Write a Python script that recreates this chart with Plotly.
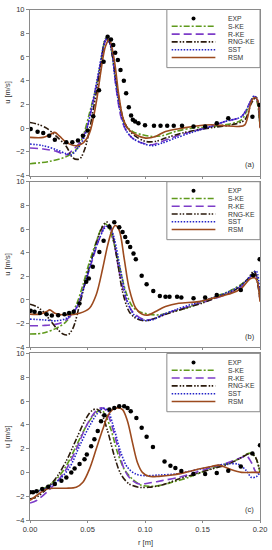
import plotly.graph_objects as go

# ---------------- data ----------------
SERIES = ["EXP", "S-KE", "R-KE", "RNG-KE", "SST", "RSM"]
PANEL_LABELS = ["(a)", "(b)", "(c)"]
X_TICKS = [0.00, 0.05, 0.10, 0.15, 0.20]
X_TICK_TEXT = ["0.00", "0.05", "0.10", "0.15", "0.20"]
Y_TICKS = [-4, -2, 0, 2, 4, 6, 8, 10]

# panel (a)
EXP_A_X = [0.0006,0.0066,0.0115,0.0167,0.0216,0.0316,0.0368,0.0417,0.046,0.050,0.055,0.060,0.064,0.0675,0.0704,0.0724,0.0741,0.0764,0.0787,0.0816,0.0836,0.0859,0.0879,0.0894,0.0914,0.0943,0.100,0.1078,0.1135,0.1193,0.125,0.1322,0.1422,0.1523,0.1624,0.1724,0.1934,0.1997]
EXP_A_Y = [-0.08,-0.31,-0.42,-0.64,-0.98,-1.20,-1.20,-1.04,-0.64,-0.2,1.0,3.2,5.6,7.7,7.48,7.0,6.36,5.74,4.9,4.0,2.94,1.76,1.06,0.70,0.56,0.42,0.25,0.2,0.2,0.2,0.2,0.2,0.14,0.14,0.42,0.84,0.95,1.96]
SKE_A_X = [0,0.0172,0.0316,0.0402,0.046,0.0517,0.0575,0.0618,0.0661,0.069,0.0733,0.0776,0.0819,0.0891,0.0977,0.1063,0.1149,0.1264,0.1408,0.1523,0.1695,0.1839,0.1925,0.1954,0.1977,0.2]
SKE_A_Y = [-3.0,-2.8,-2.4,-1.8,-0.7,1.26,3.5,5.7,7.6,7.3,4.9,2.1,0.42,-0.28,-0.56,-0.7,-0.64,-0.28,0,0.08,0.28,0.7,2.4,2.6,2.1,0.14]
RKE_A_X = [0,0.0115,0.023,0.0316,0.0374,0.0431,0.0489,0.0546,0.0603,0.0647,0.0667,0.0704,0.0747,0.079,0.0833,0.0891,0.0977,0.1063,0.1149,0.1264,0.1408,0.1552,0.1695,0.1839,0.1925,0.1954,0.1983,0.2]
RKE_A_Y = [-1.68,-1.76,-1.96,-2.24,-1.82,-1.26,-0.14,2.1,4.9,7.1,7.6,6.9,3.5,0.98,-0.14,-0.84,-1.26,-1.4,-1.12,-0.7,-0.28,0.08,0.56,0.98,2.38,2.66,2.1,0.14]
RNG_A_X = [0,0.0057,0.0144,0.023,0.0316,0.0374,0.0431,0.0474,0.0517,0.0575,0.0618,0.0655,0.0684,0.0718,0.0761,0.0805,0.0848,0.092,0.1006,0.1092,0.1178,0.1322,0.1466,0.1609,0.1753,0.1868,0.1925,0.1968,0.2]
RNG_A_Y = [0.48,0.36,0,-0.7,-1.54,-2.52,-2.6,-1.82,-0.14,2.94,5.46,7.42,7.37,6.0,3.22,0.98,0,-0.7,-1.12,-1.12,-0.84,-0.42,-0.14,0.08,0.28,0.7,2.1,2.6,0.14]
SST_A_X = [0,0.0115,0.023,0.0316,0.0359,0.0417,0.0474,0.0532,0.0589,0.0638,0.0661,0.0695,0.0741,0.0782,0.0833,0.0891,0.0977,0.1063,0.1149,0.1264,0.1408,0.1552,0.1695,0.1839,0.1911,0.1948,0.1977,0.2]
SST_A_Y = [-1.34,-1.48,-1.82,-2.16,-2.24,-1.68,-0.7,1.54,4.34,6.86,7.48,7.14,4.06,1.54,-0.14,-0.84,-1.26,-1.48,-1.26,-0.84,-0.36,0.08,0.56,0.98,2.1,2.72,2.4,0.14]
RSM_A_X = [0,0.0115,0.0172,0.0216,0.0259,0.0316,0.0402,0.046,0.0517,0.0575,0.0618,0.0655,0.069,0.0733,0.077,0.0805,0.0848,0.092,0.1006,0.1092,0.1178,0.1322,0.1466,0.158,0.1695,0.181,0.1868,0.1925,0.1954,0.1977,0.2]
RSM_A_Y = [-0.78,-0.78,-0.56,-0.36,-0.7,-1.2,-1.48,-1.26,-0.42,2.1,4.9,6.86,7.48,5.74,2.94,0.98,0,-0.56,-0.84,-0.7,-0.28,0,0.2,0.28,0.2,0.14,0.28,2.24,2.58,2.4,0]

# panel (b)
EXP_B_X = [0.0006,0.004,0.0086,0.0144,0.019,0.0245,0.030,0.034,0.038,0.043,0.0489,0.0511,0.0546,0.0603,0.064,0.069,0.0733,0.0776,0.0805,0.0828,0.0848,0.0871,0.09,0.092,0.0971,0.1014,0.1072,0.1129,0.1178,0.1213,0.1279,0.1316,0.1422,0.1523,0.1624,0.1833,0.194,0.1997]
EXP_B_Y = [-0.92,-1.0,-1.1,-1.2,-1.32,-1.3,-1.2,-1.1,-1.0,-0.3,1.54,1.82,2.8,4.06,5.0,6.2,6.58,6.16,5.74,5.32,4.9,4.48,3.92,3.44,2.04,1.34,0.76,0.34,0.28,0.28,0.28,0.2,0.14,0.2,0.42,0.84,2.1,3.44]
SKE_B_X = [0,0.0115,0.023,0.0316,0.0402,0.046,0.0517,0.0575,0.0618,0.0647,0.0675,0.0718,0.0776,0.0833,0.0891,0.0948,0.1034,0.1121,0.1236,0.1351,0.1466,0.1609,0.1753,0.1868,0.1925,0.1954,0.1977,0.2]
SKE_B_Y = [-2.88,-2.8,-2.38,-1.82,-0.42,1.26,3.22,4.9,6.02,6.44,6.3,5.18,2.94,0.7,-0.56,-0.98,-1.2,-1.26,-0.98,-0.7,-0.28,0.28,0.84,1.54,2.04,2.38,1.82,0]
RKE_B_X = [0,0.0115,0.023,0.0316,0.0402,0.0474,0.0546,0.0603,0.0655,0.0684,0.0718,0.0776,0.0833,0.0891,0.0963,0.1034,0.1121,0.1236,0.1379,0.1523,0.1695,0.1839,0.1925,0.1954,0.1983,0.2]
RKE_B_Y = [-2.18,-2.16,-2.04,-1.68,-0.7,1.26,3.5,5.18,6.3,6.36,5.46,2.38,0.14,-0.98,-1.54,-1.68,-1.4,-0.98,-0.56,-0.14,0.42,1.12,2.04,2.38,1.26,0]
RNG_B_X = [0,0.0057,0.0115,0.0172,0.023,0.0287,0.033,0.0374,0.0431,0.0489,0.0546,0.0603,0.0647,0.0675,0.0713,0.0761,0.0805,0.0862,0.092,0.1006,0.1092,0.1207,0.1351,0.1494,0.1638,0.1782,0.1897,0.1948,0.1977,0.2]
RNG_B_Y = [-0.36,-0.56,-0.98,-1.68,-2.38,-2.88,-2.94,-2.38,-0.42,1.82,3.78,5.6,6.44,6.58,5.74,3.22,0.7,-0.98,-1.54,-1.76,-1.54,-1.12,-0.7,-0.28,0.28,0.84,1.82,2.46,1.54,0]
SST_B_X = [0,0.0115,0.023,0.0316,0.0402,0.0474,0.0546,0.0603,0.0655,0.069,0.0733,0.079,0.0848,0.0905,0.0977,0.1063,0.1149,0.1264,0.1408,0.1552,0.1695,0.1839,0.1925,0.1968,0.2]
SST_B_Y = [-1.62,-1.68,-1.76,-1.54,-0.7,1.26,3.64,5.18,6.16,6.3,5.18,2.38,-0.14,-1.26,-1.68,-1.68,-1.26,-0.84,-0.36,0.08,0.56,1.26,2.1,2.44,0]
RSM_B_X = [0,0.0086,0.0144,0.0172,0.0216,0.0316,0.0431,0.0517,0.0575,0.0632,0.0675,0.0713,0.0741,0.0776,0.0819,0.0862,0.092,0.0977,0.1034,0.1092,0.1178,0.1293,0.1466,0.1609,0.1753,0.1839,0.1911,0.1954,0.1977,0.2]
RSM_B_Y = [-1.2,-1.2,-0.98,-0.84,-1.12,-1.26,-1.12,-0.7,0.42,2.66,4.62,5.88,6.3,5.88,3.5,0.98,-0.7,-1.2,-1.26,-0.98,-0.56,-0.28,-0.14,0.2,0.56,0.98,1.76,1.88,1.54,-0.14]

# panel (c)
EXP_C_X = [0,0.0026,0.0057,0.0106,0.0158,0.0216,0.0273,0.0316,0.0359,0.0388,0.0431,0.0474,0.0494,0.0532,0.056,0.0589,0.0618,0.0647,0.069,0.0733,0.0776,0.0819,0.0848,0.0876,0.0925,0.0971,0.1014,0.1069,0.117,0.1221,0.1264,0.1316,0.1422,0.1523,0.1624,0.1724,0.1833,0.1934,0.2]
EXP_C_Y = [-1.67,-1.67,-1.58,-1.4,-1.2,-0.97,-0.7,-0.42,0,0.33,0.7,1.1,1.5,2.2,2.78,3.47,4.3,4.8,5.28,5.42,5.56,5.56,5.42,5.14,4.58,3.75,3.0,2.14,0.92,0.56,0.36,0.11,-0.14,-0.14,-0.06,0.14,0.5,1.58,2.28]
SKE_C_X = [0,0.0115,0.023,0.0316,0.0402,0.0489,0.0546,0.0589,0.0618,0.0647,0.0704,0.0761,0.0819,0.0891,0.0963,0.1034,0.1121,0.1236,0.1379,0.1523,0.1695,0.181,0.1882,0.1925,0.1968,0.2]
SKE_C_Y = [-1.75,-1.39,-0.56,0.56,2.22,3.89,4.72,5.14,5.22,5.0,3.6,1.67,0.28,-0.56,-1.06,-1.17,-1.11,-0.83,-0.42,0.14,0.69,1.11,1.53,1.61,1.11,0]
RKE_C_X = [0,0.0057,0.0144,0.023,0.0316,0.0402,0.0489,0.056,0.0618,0.0655,0.0704,0.0761,0.0819,0.0876,0.0948,0.1034,0.1149,0.1293,0.1437,0.158,0.1724,0.1839,0.1882,0.1925,0.1968,0.2]
RKE_C_Y = [-2.58,-2.36,-1.67,-0.83,0.28,1.94,3.89,5.0,5.42,5.28,4.17,2.22,0.28,-0.56,-0.97,-0.89,-0.69,-0.42,0,0.42,0.83,1.25,1.39,0.83,0,0]
RNG_C_X = [0,0.0057,0.0144,0.023,0.0316,0.0402,0.0474,0.0532,0.0575,0.0618,0.0675,0.0733,0.079,0.0862,0.0948,0.1034,0.1149,0.1293,0.1437,0.158,0.1724,0.1839,0.1911,0.1954,0.2]
RNG_C_Y = [-2.22,-2.08,-1.39,-0.42,0.97,2.78,4.3,5.14,5.33,5.0,3.47,1.39,-0.14,-0.97,-1.25,-1.25,-1.06,-0.56,-0.14,0.28,0.69,1.25,1.58,1.39,0]
SST_C_X = [0,0.0086,0.0172,0.0259,0.0345,0.0431,0.0517,0.0589,0.0638,0.0675,0.0733,0.079,0.0848,0.092,0.1006,0.1121,0.1264,0.1408,0.1552,0.1695,0.181,0.1882,0.1925,0.1968,0.2]
SST_C_Y = [-1.61,-1.53,-1.17,-0.56,0.42,2.22,3.89,5.0,5.39,5.22,3.6,1.67,0.42,-0.14,-0.28,-0.22,-0.14,0.14,0.42,0.69,0.69,0.14,-0.42,-0.36,0]
RSM_C_X = [0,0.0057,0.0144,0.023,0.0316,0.0402,0.046,0.0517,0.0575,0.0632,0.0675,0.0718,0.0761,0.0805,0.0848,0.0891,0.0934,0.0977,0.1034,0.1121,0.1236,0.1351,0.1466,0.158,0.1638,0.1681,0.1753,0.1839,0.1925,0.2]
RSM_C_Y = [-2.36,-1.94,-1.39,-1.33,-1.33,-1.25,-0.83,0.28,1.94,3.6,4.72,5.28,5.42,5.28,4.3,2.5,0.83,0,-0.33,-0.33,-0.22,0,0.28,0.5,0.61,0.5,0.22,0,0,0]

PANELS = [
    {"EXP": (EXP_A_X, EXP_A_Y), "S-KE": (SKE_A_X, SKE_A_Y), "R-KE": (RKE_A_X, RKE_A_Y),
     "RNG-KE": (RNG_A_X, RNG_A_Y), "SST": (SST_A_X, SST_A_Y), "RSM": (RSM_A_X, RSM_A_Y)},
    {"EXP": (EXP_B_X, EXP_B_Y), "S-KE": (SKE_B_X, SKE_B_Y), "R-KE": (RKE_B_X, RKE_B_Y),
     "RNG-KE": (RNG_B_X, RNG_B_Y), "SST": (SST_B_X, SST_B_Y), "RSM": (RSM_B_X, RSM_B_Y)},
    {"EXP": (EXP_C_X, EXP_C_Y), "S-KE": (SKE_C_X, SKE_C_Y), "R-KE": (RKE_C_X, RKE_C_Y),
     "RNG-KE": (RNG_C_X, RNG_C_Y), "SST": (SST_C_X, SST_C_Y), "RSM": (RSM_C_X, RSM_C_Y)},
]

# ---------------- styles ----------------
COLORS = {"EXP": "#000000", "S-KE": "#5f9a1c", "R-KE": "#7d3cc8", "RNG-KE": "#2b1a0c",
          "SST": "#2222c8", "RSM": "#9c4a1e"}
DASHES = {"S-KE": "6px,2px,2px,2px", "R-KE": "8px,4px",
          "RNG-KE": "6px,2px,1.5px,1.5px,1.5px,2px", "SST": "1.5px,1.5px", "RSM": "solid"}
FONT = "Liberation Sans, Arial, sans-serif"
AXIS_COLOR = "#8a8a8a"
TEXT_COLOR = "#333333"

# y-domains of three stacked panels
DOMAINS = [[0.674, 0.999], [0.338, 0.662], [0.0, 0.326]]

fig = go.Figure()
for i, panel in enumerate(PANELS):
    xa = "x" if i == 0 else f"x{i+1}"
    ya = "y" if i == 0 else f"y{i+1}"
    for name in SERIES[1:]:
        xs, ys = panel[name]
        fig.add_trace(go.Scatter(x=xs, y=ys, mode="lines", xaxis=xa, yaxis=ya,
                                 line=dict(color=COLORS[name], width=1.6, dash=DASHES[name],
                                           shape="spline", smoothing=0.9),
                                 showlegend=False, name=name))
    xs, ys = panel["EXP"]
    fig.add_trace(go.Scatter(x=xs, y=ys, mode="markers", xaxis=xa, yaxis=ya,
                             marker=dict(color="black", size=4.5), showlegend=False, name="EXP"))

layout = dict(width=272, height=550, margin=dict(l=30, r=10, t=5, b=30),
              paper_bgcolor="white", plot_bgcolor="white", showlegend=False,
              font=dict(family=FONT, size=7.5, color=TEXT_COLOR))
shapes = []
annotations = []
for i in range(3):
    xk = "xaxis" if i == 0 else f"xaxis{i+1}"
    yk = "yaxis" if i == 0 else f"yaxis{i+1}"
    yname = "y" if i == 0 else f"y{i+1}"
    xname = "x" if i == 0 else f"x{i+1}"
    layout[xk] = dict(domain=[0, 1], anchor=yname, range=[0, 0.2], tickvals=X_TICKS,
                      ticktext=X_TICK_TEXT, showticklabels=(i == 2), showgrid=False,
                      zeroline=False, showline=True, mirror=True, linecolor=AXIS_COLOR,
                      linewidth=1, ticks="outside", ticklen=2, tickcolor=AXIS_COLOR,
                      tickfont=dict(size=7.5, color=TEXT_COLOR))
    if i > 0:
        layout[xk]["matches"] = "x"
    layout[yk] = dict(domain=DOMAINS[i], anchor=xname, range=[-4, 10], tickvals=Y_TICKS,
                      showgrid=False, zeroline=False, showline=True, mirror=True,
                      linecolor=AXIS_COLOR, linewidth=1, ticks="outside", ticklen=3,
                      tickcolor=AXIS_COLOR, tickfont=dict(size=7.5, color=TEXT_COLOR))
    xd = f"{xname} domain"
    yd = f"{yname} domain"
    # legend box
    shapes.append(dict(type="rect", xref=xd, yref=yd, x0=0.595, x1=1.0, y0=0.65, y1=1.0,
                       line=dict(color=AXIS_COLOR, width=1), fillcolor="white", layer="above"))
    for k, name in enumerate(SERIES):
        yy = 0.946 - k * 0.047
        if name == "EXP":
            shapes.append(dict(type="circle", xref=xd, yref=yd, xsizemode="pixel",
                               ysizemode="pixel", xanchor=0.711, yanchor=yy,
                               x0=-2, x1=2, y0=-2, y1=2, fillcolor="black",
                               line=dict(color="black", width=0), layer="above"))
        else:
            shapes.append(dict(type="line", xref=xd, yref=yd, x0=0.616, x1=0.806, y0=yy, y1=yy,
                               line=dict(color=COLORS[name], width=1.6, dash=DASHES[name]),
                               layer="above"))
        annotations.append(dict(xref=xd, yref=yd, x=0.85, y=yy, text=name, showarrow=False,
                                xanchor="left", yanchor="middle",
                                font=dict(size=6.8, color=TEXT_COLOR)))
    annotations.append(dict(xref=xd, yref=yd, x=0.955, y=0.065, text=PANEL_LABELS[i],
                            showarrow=False, xanchor="center", yanchor="middle",
                            font=dict(size=7.5, color=TEXT_COLOR)))
    # y-axis title
    annotations.append(dict(xref="paper", yref=yd, x=-0.099, y=0.5, text="u [m/s]",
                            textangle=-90, showarrow=False, xanchor="center", yanchor="middle",
                            font=dict(size=7.5, color=TEXT_COLOR)))

annotations.append(dict(xref="paper", yref="paper", x=0.5, y=-0.045, text="r [m]",
                        showarrow=False, xanchor="center", yanchor="middle",
                        font=dict(size=7.5, color=TEXT_COLOR)))
layout["shapes"] = shapes
layout["annotations"] = annotations
fig.update_layout(**layout)
fig.write_html("out.html", config={"displayModeBar": False},
               post_script="document.body.style.margin='0';document.body.style.padding='0';")
